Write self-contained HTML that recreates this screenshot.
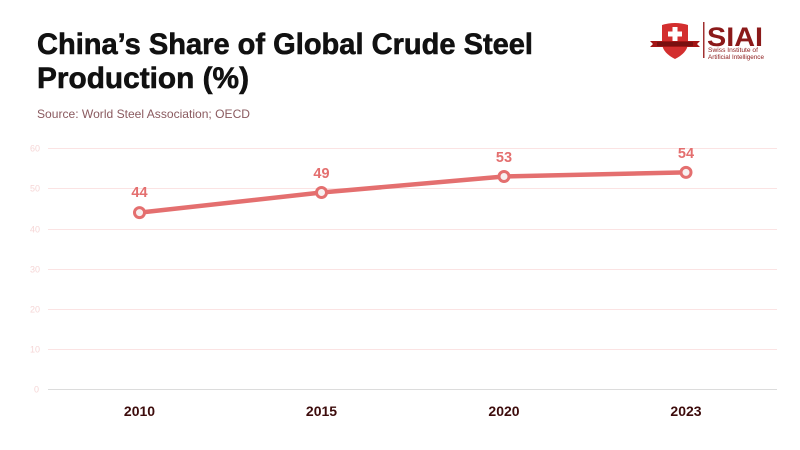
<!DOCTYPE html>
<html>
<head>
<meta charset="utf-8">
<style>
html,body{margin:0;padding:0;background:#fff;}
body{width:800px;height:450px;overflow:hidden;}
svg{display:block;}
</style>
</head>
<body>
<svg width="800" height="450" viewBox="0 0 800 450" xmlns="http://www.w3.org/2000/svg">
  <rect width="800" height="450" fill="#ffffff"/>
  <!-- Title -->
  <text x="37" y="54" font-family="Liberation Sans, sans-serif" font-weight="bold" font-size="30" fill="#111" stroke="#111" stroke-width="0.6" textLength="496" lengthAdjust="spacingAndGlyphs">China’s Share of Global Crude Steel</text>
  <text x="37" y="88" font-family="Liberation Sans, sans-serif" font-weight="bold" font-size="30" fill="#111" stroke="#111" stroke-width="0.6" textLength="212" lengthAdjust="spacingAndGlyphs">Production (%)</text>
  <text x="37" y="118" font-family="Liberation Sans, sans-serif" font-size="12" fill="#8a5a5f" textLength="213" lengthAdjust="spacingAndGlyphs">Source: World Steel Association; OECD</text>

  <!-- Logo -->
  <g>
    <path d="M662,25 Q675,21 688,25 L688,44 Q687,53 675,59 Q663,53 662,44 Z" fill="#d32f2f"/>
    <rect x="672.5" y="27" width="5" height="14" fill="#fff"/>
    <rect x="668" y="31.5" width="14" height="5" fill="#fff"/>
    <path d="M650,41 L700,41 L697,44 L700,47 L650,47 L653,44 Z" fill="#a31515"/>
    <rect x="657" y="42" width="36" height="4" fill="#7a1010"/>
    <rect x="703" y="22" width="1.5" height="36" fill="#a03030"/>
    <text x="707" y="46" font-family="Liberation Sans, sans-serif" font-weight="bold" font-size="27" fill="#8b1a1a" textLength="56" lengthAdjust="spacingAndGlyphs">SIAI</text>
    <text x="708" y="52" font-family="Liberation Sans, sans-serif" font-size="6.5" fill="#8b1a1a" textLength="50" lengthAdjust="spacingAndGlyphs">Swiss Institute of</text>
    <text x="708" y="59" font-family="Liberation Sans, sans-serif" font-size="6.5" fill="#8b1a1a" textLength="56" lengthAdjust="spacingAndGlyphs">Artificial Intelligence</text>
  </g>

  <!-- Gridlines -->
  <g stroke="#fbe3e3" stroke-width="1">
    <line x1="48" y1="148.5" x2="777" y2="148.5"/>
    <line x1="48" y1="188.5" x2="777" y2="188.5"/>
    <line x1="48" y1="229.5" x2="777" y2="229.5"/>
    <line x1="48" y1="269.5" x2="777" y2="269.5"/>
    <line x1="48" y1="309.5" x2="777" y2="309.5"/>
    <line x1="48" y1="349.5" x2="777" y2="349.5"/>
  </g>
  <line x1="48" y1="389.5" x2="777" y2="389.5" stroke="#dcdcdc" stroke-width="1"/>

  <!-- Y labels -->
  <g font-family="Liberation Sans, sans-serif" font-size="9" fill="#f6d6d6" text-anchor="end">
    <text x="40" y="151.5">60</text>
    <text x="40" y="191.5">50</text>
    <text x="40" y="232.5">40</text>
    <text x="40" y="272.5">30</text>
    <text x="40" y="312.5">20</text>
    <text x="40" y="352.5">10</text>
    <text x="39" y="392.5">0</text>
  </g>

  <!-- X labels -->
  <g font-family="Liberation Sans, sans-serif" font-weight="bold" font-size="14" fill="#3d0c0c" text-anchor="middle">
    <text x="139.5" y="416">2010</text>
    <text x="321.5" y="416">2015</text>
    <text x="504" y="416">2020</text>
    <text x="686" y="416">2023</text>
  </g>

  <!-- Series -->
  <polyline points="139.5,212.6 321.5,192.5 504,176.5 686,172.4" fill="none" stroke="#e46f6f" stroke-width="4.5" stroke-linejoin="round"/>
  <g fill="#f7f0f0" stroke="#e46f6f" stroke-width="3">
    <circle cx="139.5" cy="212.6" r="5"/>
    <circle cx="321.5" cy="192.5" r="5"/>
    <circle cx="504" cy="176.5" r="5"/>
    <circle cx="686" cy="172.4" r="5"/>
  </g>

  <!-- Data labels -->
  <g font-family="Liberation Sans, sans-serif" font-weight="bold" font-size="14.5" fill="#e46f6f" text-anchor="middle">
    <text x="139.5" y="197">44</text>
    <text x="321.5" y="178">49</text>
    <text x="504" y="162">53</text>
    <text x="686" y="158">54</text>
  </g>
</svg>
</body>
</html>
